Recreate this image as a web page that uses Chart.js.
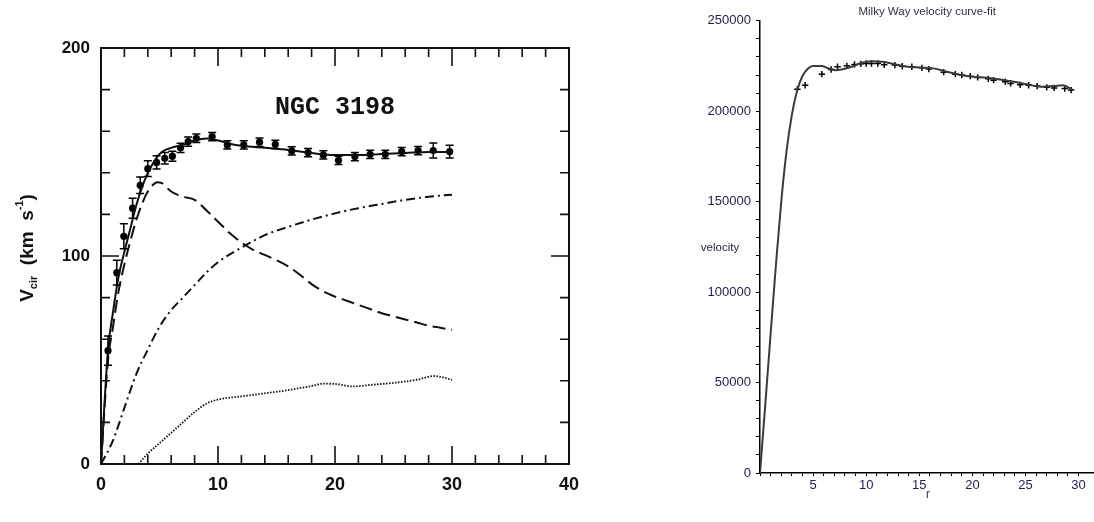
<!DOCTYPE html>
<html>
<head>
<meta charset="utf-8">
<script src="https://cdn.jsdelivr.net/npm/chart.js@4.4.0/dist/chart.umd.min.js"></script>
<style>
  html, body { margin: 0; padding: 0; background: #fff; }
  body { width: 1094px; height: 522px; position: relative; overflow: hidden; }
  #ngc-wrap { position: absolute; left: 0; top: 0; width: 600px; height: 522px; }
  #mw-wrap { position: absolute; left: 690px; top: 0; width: 410px; height: 522px; }
</style>
</head>
<body>
<div id="ngc-wrap"><canvas id="ngc3198" width="600" height="522"></canvas></div>
<div id="mw-wrap"><canvas id="milkyway" width="410" height="522"></canvas></div>
<script>
// NGC 3198 - observed rotation velocities (km/s) with errors
const obsRadius = [0.6, 1.35, 1.95, 2.7, 3.35, 4.0, 4.75, 5.45, 6.1, 6.8, 7.45, 8.15, 9.5, 10.8, 12.2, 13.55, 14.9, 16.3, 17.7, 19.0, 20.3, 21.7, 23.0, 24.3, 25.7, 27.1, 28.4, 29.8];
const obsVel = [54.5, 92, 109.5, 123, 134, 142, 145, 147, 148, 152, 155, 156.6, 157.4, 153.4, 153.4, 154.7, 153.7, 150.5, 149.7, 148.6, 146, 147.8, 148.9, 148.9, 150.2, 150.7, 150.7, 150.2];
const obsErr = [7, 6, 6, 4.8, 4, 3.8, 3.2, 2.8, 2.4, 2.2, 2.2, 2, 2, 2, 2, 2, 2, 2, 2, 2, 2, 2, 2, 2, 2, 2, 3.6, 3.1];

// model components
const totalRadius = [0, 0.6, 1, 1.5, 2, 2.5, 3, 3.5, 4, 4.5, 5, 5.5, 6, 7, 8, 9, 10, 11, 12, 14, 16, 18, 20, 22, 24, 26, 28, 30];
const totalVel = [0, 55, 72, 90, 102, 113, 124, 133, 140, 145, 149, 151, 152, 153.5, 155.5, 156.5, 155.5, 154, 153, 152, 151, 149.5, 148.5, 148.5, 149, 149.5, 150, 150];

const diskRadius = [0, 0.6, 1, 1.5, 2, 2.5, 3, 3.5, 4, 4.5, 4.8, 5.2, 6, 7, 8, 9, 10, 11, 12, 13, 14, 15, 16, 17, 18, 19, 20, 21, 22, 23, 24, 25, 26, 27, 28, 29, 30];
const diskVel = [0, 50, 65, 83, 96, 107, 117, 125, 131, 134.5, 135.5, 135, 131, 128.5, 127, 122, 116.5, 111, 106.5, 103, 100.5, 98, 95, 91, 86.5, 83, 80.5, 78.5, 76.5, 74.5, 72.5, 71, 69.5, 68, 66.5, 65.5, 64.5];

const haloRadius = [0, 1, 2, 3, 4, 5, 6, 7, 8, 9, 10, 12, 14, 16, 18, 20, 22, 24, 26, 28, 30];
const haloVel = [0, 11, 27, 43, 55, 66, 74, 80, 86, 92, 97, 104, 110, 114, 117.5, 120.5, 123, 125, 127, 128.5, 129.5];

const gasRadius = [3.2, 4, 5, 6, 7, 8, 9, 10, 12, 14, 16, 18, 19, 20, 21.5, 23, 25, 27, 28.5, 30];
const gasVel = [0, 5, 10, 15, 20, 25, 29, 31, 32.5, 34, 35.5, 37.5, 38.6, 38.5, 37.3, 38, 39, 40.5, 42.3, 40.5];

// Milky Way - measured velocities and fitted curve
const mwRadius = [3.52, 4.25, 5.82, 6.7, 7.3, 8.18, 8.9, 9.5, 10.0, 10.5, 11.1, 11.7, 12.7, 13.4, 14.3, 15.25, 15.9, 17.3, 18.4, 19.0, 19.8, 20.5, 21.5, 22.0, 23.1, 23.6, 24.5, 25.3, 26.1, 27.0, 27.7, 28.7, 29.3];
const mwVel = [212200, 214400, 220500, 223100, 224600, 225100, 225900, 226200, 226400, 226400, 226400, 225700, 225500, 224900, 224600, 224000, 223300, 221600, 220500, 220000, 219400, 218700, 217900, 217200, 216300, 215400, 214600, 214400, 213900, 213200, 212900, 212600, 211700];

const fitRadius = [0, 0.5, 1, 1.5, 2, 2.5, 3, 3.5, 4, 4.5, 5, 5.8, 6.45, 7.1, 7.7, 8.65, 9.6, 10.5, 11.5, 12.7, 13.9, 15.1, 16.35, 17.6, 18.9, 20.1, 21.4, 22.6, 23.9, 25.2, 26.4, 27.7, 28.5, 29.4];
const fitVel = [0, 38000, 77000, 115000, 150000, 178000, 198000, 211500, 219500, 223500, 225000, 225000, 223700, 222700, 223100, 224600, 226800, 227700, 227300, 226000, 224600, 224200, 223700, 221800, 220000, 219000, 218500, 217600, 216300, 214800, 213500, 213900, 214400, 212000];

function toXY(xs, ys) {
  return xs.map((x, i) => ({x: x, y: ys[i]}));
}

// box with inward ticks on all four sides
const frameTicks = {
  id: 'frameTicks',
  afterDraw(chart) {
    const {ctx, chartArea: a, scales: {x, y}} = chart;
    ctx.save();
    ctx.strokeStyle = '#111';
    ctx.lineWidth = 2;
    ctx.strokeRect(a.left, a.top, a.right - a.left, a.bottom - a.top);
    ctx.lineWidth = 1.6;
    ctx.beginPath();
    for (let r = 2; r < 40; r += 2) {
      const px = x.getPixelForValue(r);
      const len = r % 10 === 0 ? 18 : 9;
      ctx.moveTo(px, a.bottom); ctx.lineTo(px, a.bottom - len);
      ctx.moveTo(px, a.top); ctx.lineTo(px, a.top + len);
    }
    for (let v = 20; v < 200; v += 20) {
      const py = y.getPixelForValue(v);
      const len = v % 100 === 0 ? 18 : 9;
      ctx.moveTo(a.left, py); ctx.lineTo(a.left + len, py);
      ctx.moveTo(a.right, py); ctx.lineTo(a.right - len, py);
    }
    ctx.stroke();

    // galaxy name
    ctx.fillStyle = '#111';
    ctx.font = 'bold 25px "Liberation Mono"';
    ctx.textAlign = 'center';
    ctx.textBaseline = 'middle';
    ctx.fillText('NGC 3198', (a.left + a.right) / 2, 108);

    // rotated axis title with subscript and superscript
    const parts = [
      {t: 'V', font: 'bold 19px "Liberation Sans"', dy: 0},
      {t: 'cir', font: 'bold 11px "Liberation Sans"', dy: 4},
      {t: '  (km  s', font: 'bold 19px "Liberation Sans"', dy: 0},
      {t: '-1', font: 'bold 11px "Liberation Sans"', dy: -10},
      {t: ')', font: 'bold 19px "Liberation Sans"', dy: 0}
    ];
    let total = 0;
    parts.forEach(p => { ctx.font = p.font; p.w = ctx.measureText(p.t).width; total += p.w; });
    ctx.translate(33, 248 + total / 2);
    ctx.rotate(-Math.PI / 2);
    ctx.textAlign = 'left';
    ctx.textBaseline = 'alphabetic';
    let cx = 0;
    parts.forEach(p => { ctx.font = p.font; ctx.fillText(p.t, cx, p.dy); cx += p.w; });
    ctx.restore();
  }
};

const errorBars = {
  id: 'errorBars',
  afterDatasetsDraw(chart) {
    const {ctx, scales: {x, y}} = chart;
    ctx.save();
    ctx.strokeStyle = '#000';
    ctx.lineWidth = 1.5;
    ctx.beginPath();
    obsRadius.forEach((r, i) => {
      const px = x.getPixelForValue(r);
      const top = y.getPixelForValue(obsVel[i] + obsErr[i]);
      const bot = y.getPixelForValue(obsVel[i] - obsErr[i]);
      ctx.moveTo(px, top); ctx.lineTo(px, bot);
      ctx.moveTo(px - 4, top); ctx.lineTo(px + 4, top);
      ctx.moveTo(px - 4, bot); ctx.lineTo(px + 4, bot);
    });
    ctx.stroke();
    ctx.restore();
  }
};

function curve(data, dash, width) {
  return {
    data: data,
    borderColor: '#111',
    borderWidth: width,
    borderDash: dash,
    pointRadius: 0,
    cubicInterpolationMode: 'monotone',
    fill: false
  };
}

const ngcChart = new Chart(document.getElementById('ngc3198'), {
  type: 'line',
  data: {
    datasets: [
      curve(toXY(totalRadius, totalVel), [], 2),
      curve(toXY(diskRadius, diskVel), [13, 6], 2),
      curve(toXY(haloRadius, haloVel), [9, 4, 2, 4], 2),
      curve(toXY(gasRadius, gasVel), [1.5, 1.5], 1.8),
      {
        data: toXY(obsRadius, obsVel),
        showLine: false,
        pointRadius: 3.6,
        pointBackgroundColor: '#000',
        pointBorderColor: '#000',
        pointBorderWidth: 0
      }
    ]
  },
  options: {
    responsive: false,
    animation: false,
    layout: {padding: {top: 48, right: 31, left: 0, bottom: 0}},
    plugins: {legend: {display: false}, tooltip: {enabled: false}},
    scales: {
      x: {
        type: 'linear', min: 0, max: 40,
        grid: {display: false, drawTicks: false},
        border: {display: false},
        ticks: {stepSize: 10, padding: 10, color: '#111', font: {family: 'Liberation Sans', size: 18, weight: 'bold'}},
        afterFit(scale) { scale.height = 58; }
      },
      y: {
        min: 0, max: 200,
        grid: {display: false, drawTicks: false},
        border: {display: false},
        ticks: {stepSize: 100, padding: 11, color: '#111', font: {family: 'Liberation Sans', size: 17, weight: 'bold'}},
        afterFit(scale) { scale.width = 101; }
      }
    }
  },
  plugins: [frameTicks, errorBars]
});

// axis captions for the curve-fit plot
const mwLabels = {
  id: 'mwLabels',
  afterDraw(chart) {
    const {ctx, chartArea: a} = chart;
    ctx.save();
    ctx.fillStyle = '#1e1e3c';
    ctx.font = '11.5px "Liberation Sans"';
    ctx.textAlign = 'center';
    ctx.textBaseline = 'middle';
    ctx.fillText('velocity', 30, 248);
    ctx.font = '12px "Liberation Sans"';
    ctx.fillStyle = '#2a3a6a';
    ctx.fillText('r', 238, 495);
    ctx.restore();
  }
};

const mwChart = new Chart(document.getElementById('milkyway'), {
  type: 'line',
  data: {
    datasets: [
      {
        data: toXY(fitRadius, fitVel),
        borderColor: '#3a3a3a',
        borderWidth: 2,
        pointRadius: 0,
        cubicInterpolationMode: 'monotone'
      },
      {
        data: toXY(mwRadius, mwVel),
        showLine: false,
        pointStyle: 'cross',
        pointRadius: 3.2,
        pointBorderColor: '#000',
        pointBorderWidth: 1.5
      }
    ]
  },
  options: {
    responsive: false,
    animation: false,
    layout: {padding: 0},
    plugins: {
      legend: {display: false},
      tooltip: {enabled: false},
      title: {
        display: true,
        text: 'Milky Way velocity curve-fit',
        fullSize: false,
        color: '#2e2e48',
        font: {family: 'Liberation Sans', size: 11.5, weight: 'normal', lineHeight: 1.2},
        padding: {top: 5, bottom: 2}
      }
    },
    scales: {
      x: {
        type: 'linear', min: 0, max: 31.5,
        grid: {drawOnChartArea: false, drawTicks: true, tickLength: 3, color: '#000'},
        border: {display: true, color: '#000', width: 1.5},
        ticks: {
          stepSize: 1, autoSkip: false, maxRotation: 0, padding: 2,
          color: '#1e1e4a', font: {family: 'Liberation Sans', size: 13},
          callback: v => (v % 5 === 0 && v !== 0) ? String(v) : ''
        },
        afterFit(scale) { scale.height = 49; }
      },
      y: {
        min: 0, max: 250000,
        grid: {drawOnChartArea: false, drawTicks: true, tickLength: 4, color: '#000'},
        border: {display: true, color: '#000', width: 1.5},
        ticks: {
          stepSize: 10000, autoSkip: false, padding: 5,
          color: '#1e1e4a', font: {family: 'Liberation Sans', size: 13},
          callback: v => v % 50000 === 0 ? String(v) : ''
        },
        afterFit(scale) { scale.width = 70; }
      }
    }
  },
  plugins: [mwLabels]
});
</script>
</body>
</html>
